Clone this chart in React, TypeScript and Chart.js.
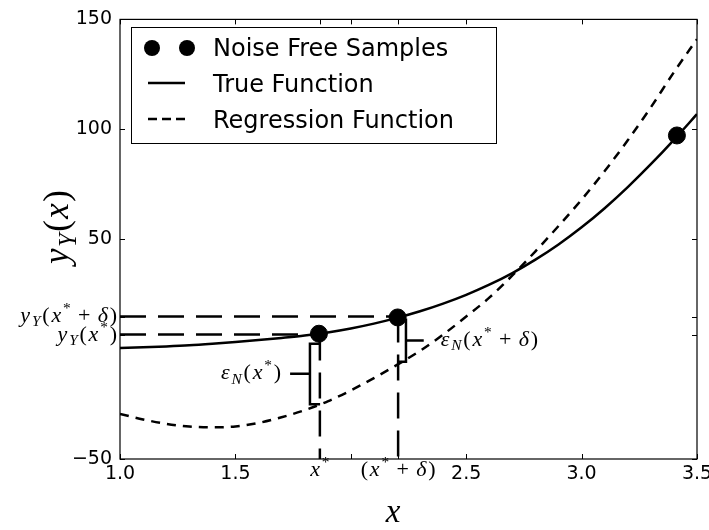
import { useEffect, useRef } from 'react';
import { Chart, registerables } from 'chart.js';

Chart.register(...registerables);

// ---------- data ----------
const xGrid = [1.0, 1.1, 1.2, 1.3, 1.4, 1.5, 1.6, 1.7, 1.8, 1.9, 2.0, 2.1, 2.2, 2.3, 2.4, 2.5, 2.6, 2.7, 2.8, 2.9, 3.0, 3.1, 3.2, 3.3, 3.4, 3.5];
const trueValues = [0.5, 0.8, 1.2, 1.7, 2.4, 3.2, 4.1, 5.1, 6.2, 7.6, 9.4, 11.6, 14.2, 17.2, 20.7, 24.7, 29.3, 34.6, 40.7, 47.6, 55.4, 64.1, 73.7, 84.1, 95.2, 106.9];
const regressionValues = [-29.5, -32.0, -34.0, -35.2, -35.6, -35.2, -33.6, -31.0, -27.8, -23.8, -18.8, -13.2, -7.2, -0.8, 6.6, 14.8, 23.4, 33.5, 44.5, 56.0, 68.0, 81.0, 95.0, 110.0, 126.0, 141.0];

const sampleX = [1.862, 2.203, 3.413];
const sampleY = [7.0, 14.4, 97.2];

const xStar = 1.866;
const xStarDelta = 2.205;
const yStar = 6.6;
const yStarDelta = 14.8;

const yTickValues = [-50, 50, 100, 150];
const xTickValues = [1.0, 1.5, 2.0, 2.5, 3.0, 3.5];
const xTickLabels = ['1.0', '1.5', '', '2.5', '3.0', '3.5'];
const xMinorTicks = [1.0, 1.5, xStar, 2.0, xStarDelta, 2.5, 3.0, 3.5];
const yMinorTicks = [-50, yStar, yStarDelta, 50, 100, 150];

// error brackets (epsilon_N)
const bracket1X = [1.867, 1.823, 1.823, 1.867];
const bracket1Y = [2.4, 2.4, -25.1, -25.1];
const bracket1TickX = [1.737, 1.823];
const bracket1TickY = [-11.2, -11.2];
const bracket2X = [2.205, 2.239, 2.239, 2.205];
const bracket2Y = [13.4, 13.4, -5.8, -5.8];
const bracket2TickX = [2.239, 2.316];
const bracket2TickY = [3.9, 3.9];

const legendLabels = ['Noise Free Samples', 'True Function', 'Regression Function'];

// ---------- math text helpers ----------
type Part = { t: string; i?: boolean; sub?: boolean; sup?: boolean };
const MATH_FAMILY = '"Liberation Serif", serif';
function partFont(p: Part, size: number) {
  const s = p.sub || p.sup ? size * 0.7 : size;
  return `${p.i ? 'italic ' : ''}${s}px ${MATH_FAMILY}`;
}
function partAdvance(ctx: CanvasRenderingContext2D, p: Part, size: number, spacing: number) {
  ctx.font = partFont(p, size);
  const nonSpace = p.t.replace(/ /g, '').length;
  return ctx.measureText(p.t).width + spacing * nonSpace;
}
function drawMath(ctx: CanvasRenderingContext2D, parts: Part[], x: number, baseline: number, size: number, align: 'left' | 'center' | 'right', spacing = 1.8) {
  let w = 0;
  for (const p of parts) w += partAdvance(ctx, p, size, spacing);
  w -= spacing;
  let cx = align === 'left' ? x : align === 'center' ? x - w / 2 : x - w;
  ctx.textAlign = 'left';
  ctx.textBaseline = 'alphabetic';
  for (const p of parts) {
    const dy = p.sub ? size * 0.22 : p.sup ? -size * 0.4 : 0;
    ctx.font = partFont(p, size);
    ctx.fillText(p.t, cx, baseline + dy);
    cx += partAdvance(ctx, p, size, spacing);
  }
}

const pYY: Part[] = [{ t: 'y', i: true }, { t: 'Y', i: true, sub: true }];
const pXStar: Part[] = [{ t: 'x', i: true }, { t: '*', sup: true }];
const pXStarDelta: Part[] = [{ t: '(' }, ...pXStar, { t: ' + ' }, { t: 'δ', i: true }, { t: ')' }];
const labelYStarDelta: Part[] = [...pYY, ...pXStarDelta];
const labelYStar: Part[] = [...pYY, { t: '(' }, ...pXStar, { t: ')' }];
const labelEps1: Part[] = [{ t: 'ε', i: true }, { t: 'N', i: true, sub: true }, { t: '(' }, ...pXStar, { t: ')' }];
const labelEps2: Part[] = [{ t: 'ε', i: true }, { t: 'N', i: true, sub: true }, ...pXStarDelta];
const yTitle: Part[] = [...pYY, { t: '(' }, { t: 'x', i: true }, { t: ')' }];
const xTitle: Part[] = [{ t: 'x', i: true }];

const decorPlugin = {
  id: 'decor',
  afterDraw(chart: any) {
    const ctx: CanvasRenderingContext2D = chart.ctx;
    const { left, right, top, bottom } = chart.chartArea;
    const xs = chart.scales.x;
    const ys = chart.scales.y;
    ctx.save();
    // frame
    ctx.strokeStyle = '#000';
    ctx.lineWidth = 1.2;
    ctx.strokeRect(left, top, right - left, bottom - top);
    // inward ticks
    ctx.lineWidth = 1;
    ctx.beginPath();
    for (const v of xMinorTicks) {
      const px = Math.round(xs.getPixelForValue(v)) + 0.5;
      ctx.moveTo(px, bottom); ctx.lineTo(px, bottom - 5);
      ctx.moveTo(px, top); ctx.lineTo(px, top + 5);
    }
    for (const v of yMinorTicks) {
      const py = Math.round(ys.getPixelForValue(v)) + 0.5;
      ctx.moveTo(left, py); ctx.lineTo(left + 5, py);
      ctx.moveTo(right, py); ctx.lineTo(right - 5, py);
    }
    ctx.stroke();

    // math tick labels
    ctx.fillStyle = '#000';
    const size = 22;
    drawMath(ctx, labelYStarDelta, left - 3, ys.getPixelForValue(yStarDelta) + 5, size, 'right');
    drawMath(ctx, labelYStar, left - 3, ys.getPixelForValue(yStar) + 6, size, 'right');
    drawMath(ctx, pXStar, xs.getPixelForValue(xStar), bottom + 17, size, 'center');
    drawMath(ctx, pXStarDelta, xs.getPixelForValue(xStarDelta), bottom + 17, size, 'center');
    // epsilon labels
    drawMath(ctx, labelEps1, xs.getPixelForValue(bracket1TickX[0]) - 9, ys.getPixelForValue(bracket1TickY[0]) + 5, size, 'right');
    drawMath(ctx, labelEps2, xs.getPixelForValue(bracket2TickX[1]) + 17, ys.getPixelForValue(bracket2TickY[0]) + 5, size, 'left');

    // axis titles
    drawMath(ctx, xTitle, 393, 522, 33, 'center', 0);
    ctx.save();
    ctx.translate(68, 227);
    ctx.rotate(-Math.PI / 2);
    drawMath(ctx, yTitle, 0, 0, 35, 'center', 1.5);
    ctx.restore();

    // legend
    const bx = 131.5, by = 27.5, bw = 365, bh = 116;
    ctx.fillStyle = '#fff';
    ctx.fillRect(bx, by, bw, bh);
    ctx.strokeStyle = '#000';
    ctx.lineWidth = 1;
    ctx.strokeRect(bx, by, bw, bh);
    ctx.fillStyle = '#000';
    for (const cx of [152, 187]) {
      ctx.beginPath();
      ctx.arc(cx, 48, 8, 0, Math.PI * 2);
      ctx.fill();
    }
    ctx.lineWidth = 2.5;
    ctx.beginPath();
    ctx.moveTo(148, 83); ctx.lineTo(185, 83);
    ctx.stroke();
    ctx.setLineDash([9, 5]);
    ctx.beginPath();
    ctx.moveTo(148, 119); ctx.lineTo(186, 119);
    ctx.stroke();
    ctx.setLineDash([]);
    ctx.font = '24px "DejaVu Sans"';
    ctx.textAlign = 'left';
    ctx.textBaseline = 'alphabetic';
    ctx.fillText(legendLabels[0], 213, 56);
    ctx.fillText(legendLabels[1], 213, 92);
    ctx.fillText(legendLabels[2], 213, 128);
    ctx.restore();
  },
};

const pts = (xs: number[], ys: number[]) => xs.map((x, i) => ({ x, y: ys[i] }));

export default function App() {
  const ref = useRef<HTMLCanvasElement>(null);
  useEffect(() => {
    const ctx = ref.current!.getContext('2d')!;
    const guide = (data: { x: number; y: number }[]) => ({
      data, showLine: true, pointRadius: 0, borderColor: '#000', borderWidth: 2.5,
      borderDash: [26, 12], fill: false, order: 3, clip: 0,
    });
    const bracket = (data: { x: number; y: number }[]) => ({
      data, showLine: true, pointRadius: 0, borderColor: '#000', borderWidth: 2.5,
      fill: false, order: 3,
    });
    const chart = new Chart(ctx, {
      type: 'scatter',
      data: {
        datasets: [
          { label: legendLabels[0], data: pts(sampleX, sampleY), pointRadius: 8.5, backgroundColor: '#000', borderColor: '#000', showLine: false, order: 0 } as any,
          { label: legendLabels[1], data: pts(xGrid, trueValues), showLine: true, pointRadius: 0, borderColor: '#000', borderWidth: 2.5, cubicInterpolationMode: 'monotone', order: 2 } as any,
          { label: legendLabels[2], data: pts(xGrid, regressionValues), showLine: true, pointRadius: 0, borderColor: '#000', borderWidth: 2.5, borderDash: [9, 7], cubicInterpolationMode: 'monotone', order: 2 } as any,
          guide(pts([1.0, xStarDelta], [yStarDelta, yStarDelta])) as any,
          guide(pts([1.0, xStar], [yStar, yStar])) as any,
          guide(pts([xStar, xStar], [yStar, -50])) as any,
          guide(pts([xStarDelta, xStarDelta], [yStarDelta, -50])) as any,
          bracket(pts(bracket1X, bracket1Y)) as any,
          bracket(pts(bracket1TickX, bracket1TickY)) as any,
          bracket(pts(bracket2X, bracket2Y)) as any,
          bracket(pts(bracket2TickX, bracket2TickY)) as any,
        ],
      },
      options: {
        animation: false,
        responsive: true,
        maintainAspectRatio: false,
        layout: { padding: { top: 16, right: 12, left: 0, bottom: 0 } },
        plugins: { legend: { display: false }, tooltip: { enabled: false } },
        scales: {
          x: {
            type: 'linear', min: 1, max: 3.5,
            grid: { display: false, drawTicks: false },
            border: { display: false },
            afterBuildTicks: (s: any) => { s.ticks = xTickValues.map((v) => ({ value: v })); },
            afterFit: (s: any) => { s.height = 71; s.paddingLeft = 0; s.paddingRight = 0; },
            ticks: {
              callback: (_v: any, i: number) => xTickLabels[i],
              color: '#000', font: { family: 'DejaVu Sans', size: 19 }, padding: 4,
              maxRotation: 0, autoSkip: false,
            },
          },
          y: {
            type: 'linear', min: -50, max: 150,
            grid: { display: false, drawTicks: false },
            border: { display: false },
            afterBuildTicks: (s: any) => { s.ticks = yTickValues.map((v) => ({ value: v })); },
            afterFit: (s: any) => { s.width = 120; },
            ticks: {
              callback: (v: any) => (v < 0 ? '\u2212' + Math.abs(v) : String(v)),
              color: '#000', font: { family: 'DejaVu Sans', size: 19 }, padding: 8,
              autoSkip: false,
            },
          },
        },
      },
      plugins: [decorPlugin],
    });
    return () => chart.destroy();
  }, []);
  return (
    <div style={{ position: 'absolute', left: 0, top: 0, width: 709, height: 530, background: '#fff' }}>
      <canvas ref={ref} />
    </div>
  );
}
